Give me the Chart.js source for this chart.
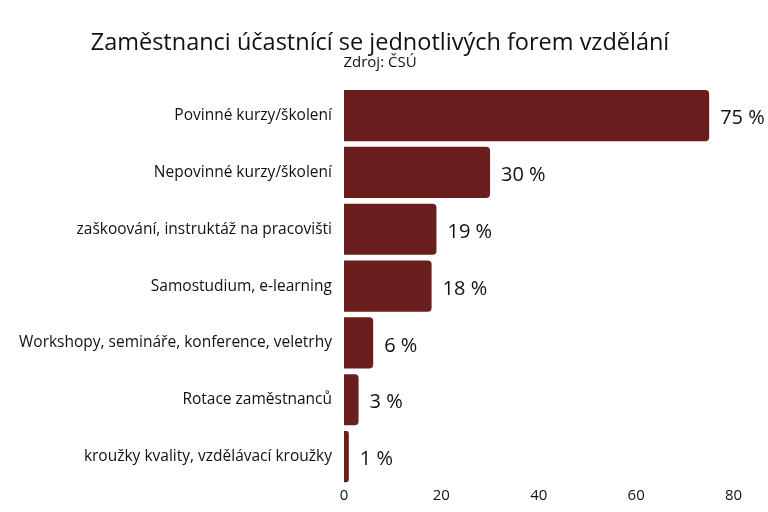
<!DOCTYPE html>
<html>
<head>
<meta charset="utf-8">
<script src="https://cdn.jsdelivr.net/npm/chart.js@4"></script>
<style>
  body { margin: 0; background: #fff; }
  #wrap { width: 768px; height: 512px; }
</style>
</head>
<body>
<div id="wrap"><canvas id="chart"></canvas></div>
<script>
// Data
const categories = [
    "Povinné kurzy/školení",
    "Nepovinné kurzy/školení",
    "zaškoování, instruktáž na pracovišti",
    "Samostudium, e-learning",
    "Workshopy, semináře, konference, veletrhy",
    "Rotace zaměstnanců",
    "kroužky kvality, vzdělávací kroužky"
];
const shares = [75, 30, 19, 18, 6, 3, 1];
const xTicks = [0, 20, 40, 60, 80];

const barColor = "#6b1e1e";

// draws "75 %" next to every bar
const valueLabels = {
    id: "valueLabels",
    afterDatasetsDraw(chart) {
        const ctx = chart.ctx;
        const meta = chart.getDatasetMeta(0);
        ctx.save();
        ctx.font = "20px 'Open Sans'";
        ctx.fillStyle = "#111";
        ctx.textAlign = "left";
        ctx.textBaseline = "middle";
        meta.data.forEach((bar, i) => {
            ctx.fillText(shares[i] + " %", bar.x + 11, bar.y + 3);
        });
        ctx.restore();
    }
};

new Chart(document.getElementById("chart"), {
    type: "bar",
    data: {
        labels: categories,
        datasets: [{
            data: shares,
            backgroundColor: barColor,
            borderRadius: { topRight: 4, bottomRight: 4, topLeft: 0, bottomLeft: 0 },
            borderSkipped: false,
            barPercentage: 0.9,
            categoryPercentage: 1
        }]
    },
    options: {
        indexAxis: "y",
        responsive: true,
        maintainAspectRatio: false,
        animation: false,
        layout: { padding: { top: 10, right: 15, bottom: 5, left: 7 } },
        plugins: {
            legend: { display: false },
            tooltip: { enabled: false },
            title: {
                display: true,
                text: "Zaměstnanci účastnící se jednotlivých forem vzdělání",
                color: "#111",
                font: { family: "'Open Sans'", size: 23.5, weight: "normal" },
                padding: { top: 19, bottom: 0 }
            },
            subtitle: {
                display: true,
                text: "Zdroj: ČSÚ",
                color: "#111",
                font: { family: "'Open Sans'", size: 15 },
                padding: { top: -3, bottom: 15 }
            }
        },
        scales: {
            x: {
                min: 0,
                max: 84, // a bit of room past the last tick for the "75 %" label
                afterBuildTicks(axis) {
                    axis.ticks = xTicks.map(v => ({ value: v }));
                },
                grid: { display: false, drawTicks: false },
                border: { display: false },
                ticks: {
                    color: "#111",
                    padding: 2,
                    font: { family: "'Open Sans'", size: 15 }
                }
            },
            y: {
                grid: { display: false, drawTicks: false },
                border: { display: false },
                ticks: {
                    color: "#111",
                    padding: 12,
                    font: { family: "'Open Sans'", size: 15.5 }
                }
            }
        }
    },
    plugins: [valueLabels]
});
</script>
</body>
</html>
